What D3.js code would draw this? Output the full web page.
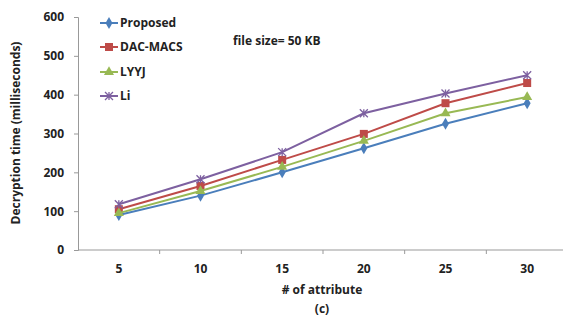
<!DOCTYPE html>
<html><head><meta charset="utf-8">
<script src="https://cdn.jsdelivr.net/npm/d3@7"></script>
<style>body{margin:0;background:#fff}svg{display:block}text{font-family:"Open Sans","Liberation Sans",sans-serif;font-weight:bold;fill:#222}</style>
</head><body><svg id="c" width="563" height="320"></svg>
<script>
const categories = ["5","10","15","20","25","30"];
const seriesNames = ["Proposed","DAC-MACS","LYYJ","Li"];
const proposed = [90,140,200,262,325,378];
const dacMacs = [105,165,232,299,378,430];
const lyyj = [95,152,214,281,352,394];
const li = [118,182,252,352,403,450];
const yTicks = [0,100,200,300,400,500,600];
const colors = ["#4a7ebb","#be4b48","#98b954","#7d60a0"];
const markers = ["diamond","square","triangle","x"];
const allSeries = [proposed, dacMacs, lyyj, li];

const svg = d3.select("#c");
const x = d3.scaleBand().domain(categories).range([78, 568]);
const y = d3.scaleLinear().domain([0,600]).range([250, 17]);

// axes
const yAxis = d3.axisLeft(y).tickValues(yTicks).tickSize(4).tickPadding(10);
const gy = svg.append("g").attr("transform","translate(78,0)").call(yAxis);
gy.selectAll("path,line").attr("stroke","#999");
gy.selectAll("text").attr("font-size",12).attr("font-weight","bold").attr("fill","#222");

const gx = svg.append("g").attr("transform","translate(0,250)");
gx.append("line").attr("x1",78).attr("x2",568).attr("stroke","#999");
gx.selectAll("line.t").data(categories.slice(1)).join("line").attr("class","t")
  .attr("x1",d=>x(d)).attr("x2",d=>x(d)).attr("y1",0).attr("y2",4).attr("stroke","#999");
gx.selectAll("text").data(categories).join("text")
  .attr("x",d=>x(d)+x.bandwidth()/2).attr("y",23).attr("text-anchor","middle").attr("font-size",12).text(d=>d);

function sym(type, cx, cy, color, g){
  if(type==="diamond"){
    g.append("path").attr("d",d3.symbol(d3.symbolDiamond,42)()).attr("transform",`translate(${cx},${cy})`).attr("fill",color);
  } else if(type==="square"){
    g.append("rect").attr("x",cx-4).attr("y",cy-4).attr("width",8).attr("height",8).attr("fill",color);
  } else if(type==="triangle"){
    g.append("path").attr("d",d3.symbol(d3.symbolTriangle,44)()).attr("transform",`translate(${cx},${cy})`).attr("fill",color);
  } else {
    g.append("path").attr("d",`M${cx-4},${cy-4}L${cx+4},${cy+4}M${cx-4},${cy+4}L${cx+4},${cy-4}M${cx},${cy-4}L${cx},${cy+4}`).attr("stroke",color).attr("stroke-width",1.3).attr("fill","none");
  }
}

const line = d3.line().x((d,i)=>x(categories[i])+x.bandwidth()/2).y(d=>y(d));
allSeries.forEach((s,k)=>{
  const g = svg.append("g");
  g.append("path").datum(s).attr("d",line).attr("fill","none").attr("stroke",colors[k]).attr("stroke-width",2);
  s.forEach((v,i)=>sym(markers[k], x(categories[i])+x.bandwidth()/2, y(v), colors[k], g));
});

// legend
const legY = [23,47,72,96];
seriesNames.forEach((n,k)=>{
  const g = svg.append("g");
  g.append("line").attr("x1",100).attr("x2",118).attr("y1",legY[k]).attr("y2",legY[k]).attr("stroke",colors[k]).attr("stroke-width",2);
  sym(markers[k],109,legY[k],colors[k],g);
  g.append("text").attr("x",120).attr("y",legY[k]+4).attr("font-size",12).text(n);
});

svg.append("text").attr("x",233).attr("y",45).attr("font-size",12).text("file size= 50 KB");
svg.append("text").attr("transform","translate(20,133) rotate(-90)").attr("text-anchor","middle").attr("font-size",12).text("Decryption time (milliseconds)");
svg.append("text").attr("x",322).attr("y",294).attr("text-anchor","middle").attr("font-size",12).text("# of attribute");
svg.append("text").attr("x",322).attr("y",313).attr("text-anchor","middle").attr("font-size",12).text("(c)");
</script></body></html>
